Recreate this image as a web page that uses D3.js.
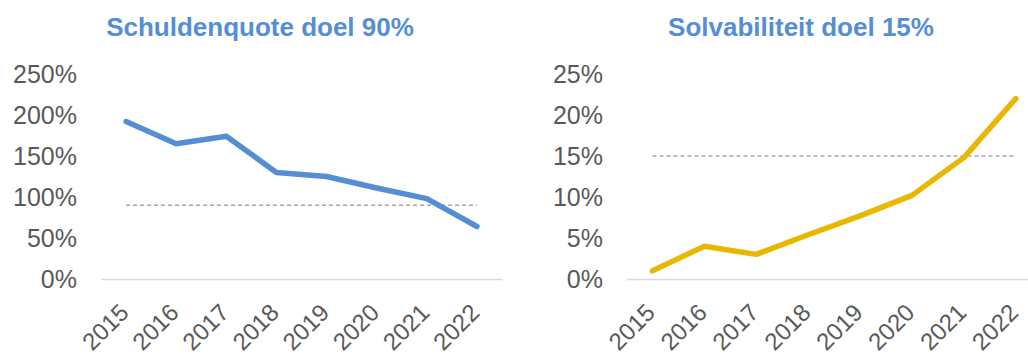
<!DOCTYPE html>
<html>
<head>
<meta charset="utf-8">
<script src="https://cdn.jsdelivr.net/npm/d3@7"></script>
<style>
  html, body { margin: 0; padding: 0; background: #fff; }
  svg { display: block; font-family: "Liberation Sans", Arial, sans-serif; }
</style>
</head>
<body>
<svg id="chart" width="1028" height="354"></svg>
<script>
// Jaren op de x-as
const years = ["2015", "2016", "2017", "2018", "2019", "2020", "2021", "2022"];

// Schuldenquote (%) per jaar en het doel
const debtRatio = [192, 165, 174, 130, 125, 111, 98, 64];
const debtTarget = 90;
const debtTicks = [0, 50, 100, 150, 200, 250];

// Solvabiliteit (%) per jaar en het doel
const solvency = [1.0, 4.0, 3.0, 5.4, 7.7, 10.2, 14.8, 22.0];
const solvencyTarget = 15;
const solvencyTicks = [0, 5, 10, 15, 20, 25];

const svg = d3.select("#chart");

function panel(opts) {
  const g = svg.append("g");
  const x = d3.scaleBand().domain(years).range([opts.left, opts.right]).padding(0);
  const y = d3.scaleLinear().domain([0, opts.max]).range([279, 74]);

  // titel
  g.append("text")
    .attr("x", opts.titleX).attr("y", 36)
    .attr("text-anchor", "middle")
    .attr("fill", "#558ED5")
    .attr("font-weight", "bold")
    .attr("font-size", 26)
    .text(opts.title);

  // y-as labels
  const yAxis = d3.axisLeft(y).tickValues(opts.ticks).tickSize(0)
    .tickPadding(opts.left - opts.labelRight)
    .tickFormat(d => d + "%");
  g.append("g").attr("transform", `translate(${opts.left},0)`).call(yAxis)
    .call(a => a.select(".domain").remove())
    .selectAll("text")
    .attr("fill", "#595959").attr("font-size", 25)
    .attr("font-family", "Liberation Sans, Arial, sans-serif");

  // x-as met schuine jaartallen
  const xAxis = d3.axisBottom(x).tickSize(0).tickSizeOuter(0);
  const xa = g.append("g").attr("transform", "translate(0,279)").call(xAxis);
  xa.select(".domain").attr("stroke", "#D9D9D9").attr("stroke-width", 1.5);
  xa.selectAll(".tick text")
    .attr("fill", "#595959").attr("font-size", 24)
    .attr("font-family", "Liberation Sans, Arial, sans-serif")
    .attr("text-anchor", "end")
    .attr("x", 0).attr("y", 0).attr("dy", "0.71em")
    .attr("transform", "translate(-8,23) rotate(-45)");

  const cx = d => x(d) + x.bandwidth() / 2;

  // doellijn
  g.append("line")
    .attr("x1", cx(years[0])).attr("x2", cx(years[years.length - 1]))
    .attr("y1", y(opts.target)).attr("y2", y(opts.target))
    .attr("stroke", "#A6A6A6").attr("stroke-width", 1.5)
    .attr("stroke-dasharray", "4,3");

  // datalijn
  const line = d3.line().x((d, i) => cx(years[i])).y(d => y(d));
  g.append("path")
    .datum(opts.values)
    .attr("d", line)
    .attr("fill", "none")
    .attr("stroke", opts.color)
    .attr("stroke-width", 5.5)
    .attr("stroke-linecap", "round")
    .attr("stroke-linejoin", "round");
}

panel({
  title: "Schuldenquote doel 90%", titleX: 260,
  left: 101, right: 502, labelRight: 77,
  max: 250, ticks: debtTicks, values: debtRatio, target: debtTarget,
  color: "#558ED5"
});

panel({
  title: "Solvabiliteit doel 15%", titleX: 801,
  left: 626.5, right: 1041.7, labelRight: 603,
  max: 25, ticks: solvencyTicks, values: solvency, target: solvencyTarget,
  color: "#E8B800"
});
</script>
</body>
</html>
